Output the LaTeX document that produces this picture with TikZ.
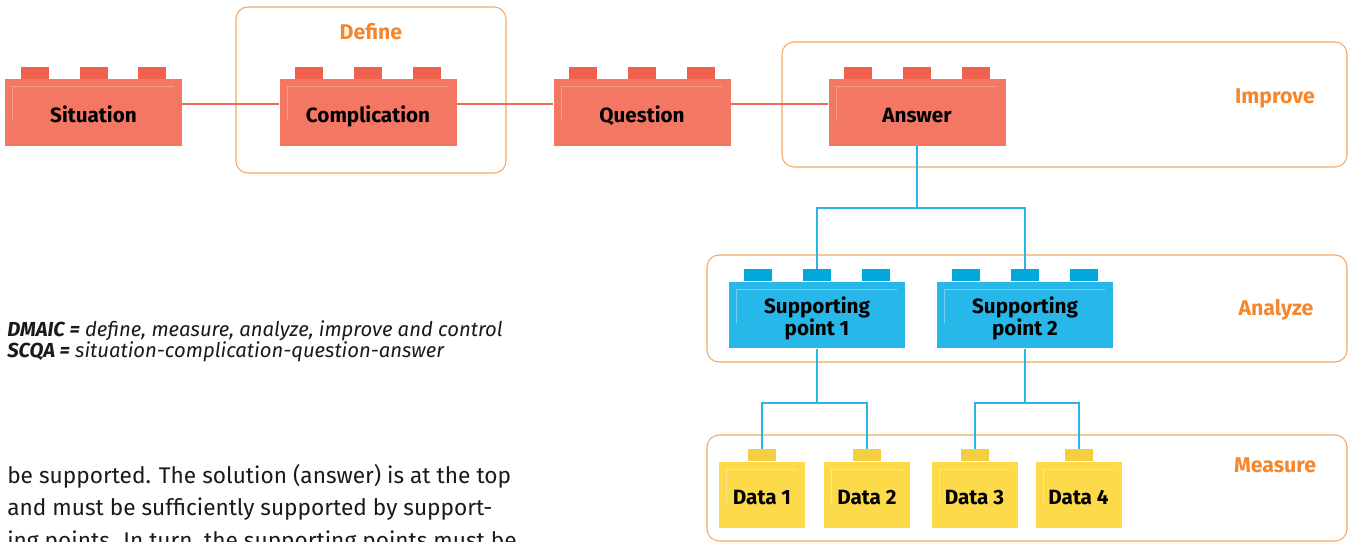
\documentclass[tikz,border=0pt]{standalone}
\usepackage{fontspec}
\setmainfont{Fira Sans}
\usetikzlibrary{positioning}
\definecolor{brickred}{HTML}{F47763}
\definecolor{studred}{HTML}{F0614E}
\definecolor{hlred}{HTML}{F89C8C}
\definecolor{brickblue}{HTML}{27B7E9}
\definecolor{studblue}{HTML}{02A7DC}
\definecolor{hlblue}{HTML}{72D1F1}
\definecolor{brickyel}{HTML}{FCDA4A}
\definecolor{studyel}{HTML}{F4CE42}
\definecolor{hlyel}{HTML}{FDE78E}
\definecolor{linkred}{HTML}{F06A57}
\definecolor{linkblue}{HTML}{29B5E8}
\definecolor{framebox}{HTML}{F5A865}
\definecolor{phaseorange}{HTML}{F5862B}
\definecolor{inktext}{HTML}{1A1A1A}

\begin{document}
\begin{tikzpicture}[x=0.75pt,y=-0.75pt,
	frame/.style={draw=framebox,line width=0.8pt,rounded corners=9pt},
	phase/.style={text=phaseorange,font=\bfseries\fontsize{16}{18}\selectfont},
	brick/.style={inner sep=0pt,minimum height=50pt},
	bricktext/.style={inner sep=0pt,anchor=base,align=center,text=black,
		font=\bfseries\fontsize{15.5}{16.5}\selectfont},
	redbrick/.style={brick,fill=brickred,minimum width=132.75pt},
	bluebrick/.style={brick,fill=brickblue,minimum width=132pt},
	yelbrick/.style={brick,fill=brickyel,minimum width=64.5pt},
	note/.style={anchor=base west,inner sep=0pt,text=inktext},
	link/.style={line width=1.5pt}
	]
	\useasboundingbox (0,0) rectangle (1353,542);
	% phase frames
	\draw[frame] (236,7) rectangle (506,173);
	\draw[frame] (782,42) rectangle (1347,167);
	\draw[frame] (707,255) rectangle (1347,362);
	\draw[frame] (707,435) rectangle (1347,541);
	\node[phase] (define) at (371,32) {Define};
	\node[phase] (improve) at (1275,98) {Improve};
	\node[phase] (analyze) at (1276,310) {Analyze};
	\node[phase] (measure) at (1275,465) {Measure};

	% SCQA row
	\foreach \name/\x/\txt in {sit/93.5/Situation,comp/368/Complication,quest/642/Question,ans/917/Answer}{
		\node[redbrick] (\name) at (\x,112.5) {};
		\foreach \o in {-44,0,44}
			\fill[studred] ([xshift=\o pt-10.5pt]\name.north) rectangle ([xshift=\o pt+10.5pt,yshift=9pt]\name.north);
		\draw[hlred,line width=0.8pt] ([shift={(6pt,19pt)}]\name.south west) |- ([shift={(-6.5pt,-6pt)}]\name.north east);
		\node[bricktext] (\name-txt) at ([yshift=-7.3pt]\name.center) {\txt};
	}
	\draw[linkred,link] ([yshift=6.4pt]sit.east) -- ([yshift=6.4pt]comp.west);
	\draw[linkred,link] ([yshift=6.4pt]comp.east) -- ([yshift=6.4pt]quest.west);
	\draw[linkred,link] ([yshift=6.4pt]quest.east) -- ([yshift=6.4pt]ans.west);

	% supporting points
	\foreach \name/\x/\txt in {sup1/817/Supporting\\point 1,sup2/1025/Supporting\\point 2}{
		\node[bluebrick] (\name) at (\x,315) {};
		\foreach \o in {-44,0,44}
			\fill[studblue] ([xshift=\o pt-10.5pt]\name.north) rectangle ([xshift=\o pt+10.5pt,yshift=9pt]\name.north);
		\draw[hlblue,line width=0.8pt] ([shift={(6pt,19pt)}]\name.south west) |- ([shift={(-6.5pt,-6pt)}]\name.north east);
		\node[bricktext] (\name-txt) at ([yshift=-15pt]\name.center) {\txt};
	}

	% data
	\foreach \name/\x/\txt in {dat1/762/Data 1,dat2/867/Data 2,dat3/974.5/Data 3,dat4/1078.5/Data 4}{
		\node[yelbrick] (\name) at (\x,495) {};
		\fill[studyel] ([xshift=-10.5pt]\name.north) rectangle ([xshift=10.5pt,yshift=9pt]\name.north);
		\draw[hlyel,line width=0.8pt] ([shift={(6pt,19pt)}]\name.south west) |- ([shift={(-6.5pt,-6pt)}]\name.north east);
		\node[bricktext] (\name-txt) at ([yshift=-6.9pt]\name.center) {\txt};
	}

	% tree links
	\draw[linkblue,link] (ans.south) -- ++(0,62) -| ([yshift=9pt]sup1.north);
	\draw[linkblue,link] (ans.south) -- ++(0,62) -| ([yshift=9pt]sup2.north);
	\draw[linkblue,link] (sup1.south) -- ++(0,54) -| ([yshift=9pt]dat1.north);
	\draw[linkblue,link] (sup1.south) -- ++(0,54) -| ([yshift=9pt]dat2.north);
	\draw[linkblue,link] (sup2.south) -- ++(0,54) -| ([yshift=9pt]dat3.north);
	\draw[linkblue,link] (sup2.south) -- ++(0,54) -| ([yshift=9pt]dat4.north);

	% legend and text
	\node[note,font=\itshape\fontsize{15.2}{17}\selectfont] (dmaic) at (7,336)
		{\textbf{DMAIC =} define, measure, analyze, improve and control};
	\node[note,font=\itshape\fontsize{15.2}{17}\selectfont] (scqa) at (7,357)
		{\textbf{SCQA =} situation-complication-question-answer};
	\begin{scope}
		\clip (0,0) rectangle (1353,542);
		\node[note,font=\fontsize{17}{20}\selectfont] (body1) at (7,483)
			{be supported. The solution (answer) is at the top};
		\node[note,font=\fontsize{17}{20}\selectfont] (body2) at (7,515)
			{and must be sufficiently supported by support-};
		\node[note,font=\fontsize{17}{20}\selectfont] (body3) at (7,548)
			{ing points. In turn, the supporting points must be};
	\end{scope}
\end{tikzpicture}
\end{document}
